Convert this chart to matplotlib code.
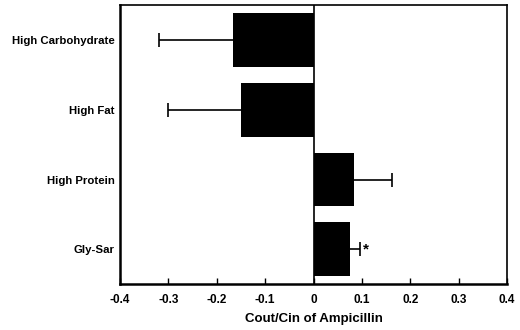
import matplotlib
matplotlib.use("Agg")
import matplotlib.pyplot as plt
import numpy as np

plt.rcParams["font.family"] = ["Liberation Sans", "DejaVu Sans"]
plt.rcParams["font.weight"] = "bold"

categories = ["High Carbohydrate", "High Fat", "High Protein", "Gly-Sar"]
values = [-0.167, -0.151, 0.083, 0.076]
errors = [0.153, 0.149, 0.080, 0.019]
xticks = [-0.4, -0.3, -0.2, -0.1, 0, 0.1, 0.2, 0.3, 0.4]
xtick_labels = ["-0.4", "-0.3", "-0.2", "-0.1", "0", "0.1", "0.2", "0.3", "0.4"]

fig = plt.figure(figsize=(5.2, 3.3), dpi=100)
ax = fig.add_axes([0.231, 0.139, 0.744, 0.845])

y = np.arange(len(categories))
ax.barh(y, values, height=0.77, color="black", zorder=2)

# one-sided error bars, drawn outward from the bar end
ends = [v - e if v < 0 else v + e for v, e in zip(values, errors)]
ax.hlines(y, values, ends, color="black", linewidth=1.2, zorder=1)
ax.plot(ends, y, linestyle="none", marker="|", markersize=10,
        markeredgewidth=1.2, color="black", zorder=1)

# significance marker
ax.text(ends[3] + 0.008, y[3], "*", ha="left", va="center",
        fontsize=11, fontweight="bold")

ax.axvline(0, color="black", linewidth=1.2, zorder=3)

ax.set_xlim(-0.4, 0.4)
ax.set_ylim(len(categories) - 0.5, -0.5)
ax.set_yticks(y)
ax.set_yticklabels(categories, fontsize=8.2, fontweight="bold")
ax.tick_params(axis="y", length=0, pad=4)
ax.set_xticks(xticks)
ax.set_xticklabels(xtick_labels, fontsize=8.5, fontweight="bold")
ax.tick_params(axis="x", direction="in", length=4, width=1, pad=7)
ax.set_xlabel("Cout/Cin of Ampicillin", fontsize=9.5, fontweight="bold", labelpad=5)

for side in ["left", "bottom"]:
    ax.spines[side].set_linewidth(1.8)
for side in ["top", "right"]:
    ax.spines[side].set_linewidth(1.2)

fig.savefig("out.png", dpi=100)
